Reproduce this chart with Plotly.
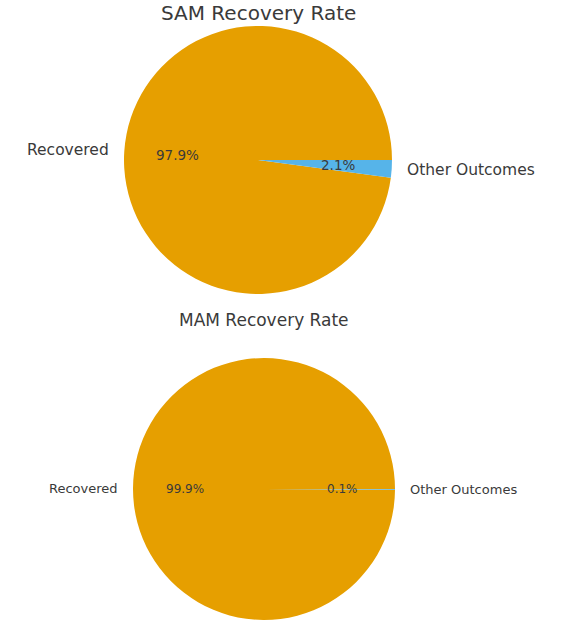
import math
import plotly.graph_objects as go

W, H = 567, 631

labels = ["Recovered", "Other Outcomes"]
sam_values = [97.9, 2.1]
mam_values = [99.9, 0.1]
colors = ["#E69F00", "#56B4E9"]
titles = ["SAM Recovery Rate", "MAM Recovery Rate"]

# pie geometry in pixels (center x, center y from top, radius)
pies = [
    dict(values=sam_values, cx=258, cy=160, r=134, title=titles[0], ty=13,
         tsize=20, lsize=15.5, psize=13.5),
    dict(values=mam_values, cx=264, cy=489, r=131, title=titles[1], ty=320,
         tsize=17, lsize=13, psize=12),
]

fig = go.Figure()
annotations = []
font_family = "DejaVu Sans"
text_color = "#3a3a3a"

for p in pies:
    cx, cy, r = p["cx"], p["cy"], p["r"]
    total = sum(p["values"])
    # matplotlib-style: first wedge starts at 3 o'clock and runs counterclockwise
    rot = 90 - 360 * p["values"][0] / total
    fig.add_trace(go.Pie(
        labels=labels, values=p["values"], sort=False,
        direction="counterclockwise", rotation=rot,
        marker=dict(colors=colors, line=dict(width=0)),
        textinfo="none", hoverinfo="label+percent", showlegend=False,
        domain=dict(x=[(cx - r) / W, (cx + r) / W],
                    y=[1 - (cy + r) / H, 1 - (cy - r) / H]),
    ))
    cum = 0.0
    for lab, v in zip(labels, p["values"]):
        frac = v / total
        a1 = cum * 360
        a2 = (cum + frac) * 360
        cum += frac
        mid = math.radians((a1 + a2) / 2)
        # label at 1.1 r
        lx = cx + 1.1 * r * math.cos(mid)
        ly = cy - 1.1 * r * math.sin(mid)
        annotations.append(dict(
            x=lx / W, y=1 - ly / H, xref="paper", yref="paper",
            text=lab, showarrow=False,
            xanchor="left" if math.cos(mid) > 0 else "right", yanchor="middle",
            font=dict(family=font_family, size=p["lsize"], color=text_color)))
        # percent at 0.6 r
        px = cx + 0.6 * r * math.cos(mid)
        py = cy - 0.6 * r * math.sin(mid)
        annotations.append(dict(
            x=px / W, y=1 - py / H, xref="paper", yref="paper",
            text=f"{100 * frac:.1f}%", showarrow=False,
            xanchor="center", yanchor="middle",
            font=dict(family=font_family, size=p["psize"], color=text_color)))
    annotations.append(dict(
        x=cx / W, y=1 - p["ty"] / H, xref="paper", yref="paper",
        text=p["title"], showarrow=False, xanchor="center", yanchor="middle",
        font=dict(family=font_family, size=p["tsize"], color=text_color)))

fig.update_layout(
    width=W, height=H,
    margin=dict(l=0, r=0, t=0, b=0),
    paper_bgcolor="white", plot_bgcolor="white",
    annotations=annotations,
)

fig.write_html("out.html")
